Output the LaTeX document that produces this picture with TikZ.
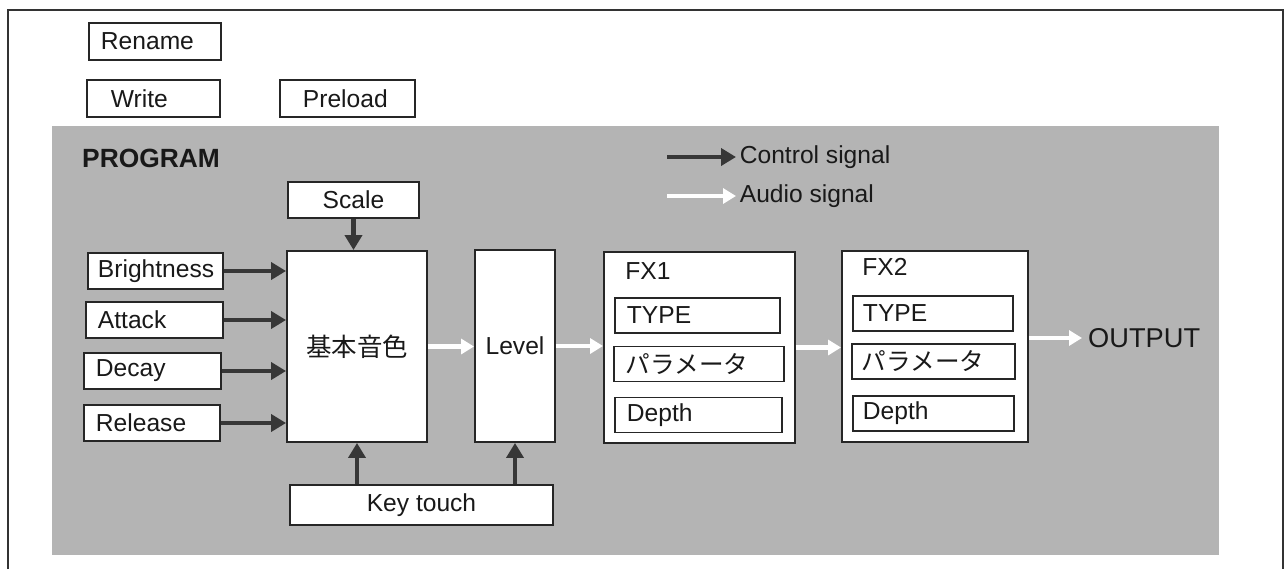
\documentclass[tikz,border=0pt]{standalone}
\usepackage{fontspec}
\setmainfont{Liberation Sans}
\newfontfamily\jpfont{Noto Sans CJK JP}
\usetikzlibrary{arrows.meta}
\definecolor{panelgray}{RGB}{180,180,180}
\definecolor{inkgray}{RGB}{55,55,55}

\begin{document}
\begin{tikzpicture}[x=0.02cm, y=-0.02cm,
every node/.style={font=\fontsize{14}{16}\selectfont, text=black!90},
box/.style={draw=black!85, line width=1.1pt, fill=white, inner sep=0pt},
lbox/.style={box, anchor=west, align=left, minimum height=0.73cm, inner xsep=0.24cm},
sub/.style={lbox, minimum height=0.7cm},
ctl/.style={-{Triangle[length=0.3cm,width=0.34cm]}, line width=2.8pt, draw=inkgray},
aud/.style={-{Triangle[length=0.26cm,width=0.3cm]}, line width=2.4pt, draw=white}]
\useasboundingbox (0,0) rectangle (1285,569);
\draw[line width=1.2pt, black!80] (8,569) -- (8,10) -- (1283,10) -- (1283,569);
\fill[panelgray] (52,126) rectangle (1219,555);

\node[lbox, text width=2.16cm] (rename) at (88,41.5) {Rename};
\node[lbox, inner xsep=0.48cm, text width=1.7cm] (write) at (86,98.5) {Write};
\node[lbox, inner xsep=0.46cm, text width=1.78cm] (preload) at (279,98.5) {Preload};

\node[anchor=west, font=\bfseries\fontsize{15}{18}\selectfont] (prog) at (76,158) {PROGRAM};
\node[anchor=west, inner xsep=2pt] (ctltxt) at (736,157) {Control signal};
\node[anchor=west, inner xsep=2pt] (audtxt) at (736,196) {Audio signal};
\coordinate (ctl0) at (667,0 |- ctltxt.west);
\coordinate (aud0) at (667,0 |- audtxt.west);
\draw[ctl] (ctl0) -- (ctltxt.west);
\draw[aud] (aud0) -- (audtxt.west);

\node[box, minimum width=2.62cm, minimum height=0.72cm] (scale) at (353.5,200) {Scale};
\node[lbox, inner xsep=0.2cm, text width=2.3cm] (bri) at (87,271) {Brightness};
\node[lbox, text width=2.26cm] (att) at (85,320) {Attack};
\node[lbox, text width=2.26cm] (dec) at (83,371) {Decay};
\node[lbox, text width=2.24cm] (rel) at (83,423) {Release};

\node[box, minimum width=2.8cm, minimum height=3.82cm] (base) at (357,346.5)
  {\jpfont\fontsize{14.5}{16}\selectfont 基本音色};
\node[box, minimum width=1.6cm, minimum height=3.84cm] (level) at (515,346) {Level};
\node[box, minimum width=5.26cm, minimum height=0.8cm] (key) at (421.5,505) {Key touch};

\node[box, minimum width=3.82cm, minimum height=3.82cm] (fx1) at (699.5,347.5) {};
\node[anchor=west, inner sep=0pt] (fx1name) at ([xshift=0.44cm,yshift=-0.4cm]fx1.north west) {FX1};
\node[sub, text width=2.82cm] (type1) at (614,315.5) {TYPE};
\node[sub, text width=2.92cm] (para1) at (613,364) {\jpfont パラメータ};
\node[sub, text width=2.86cm] (depth1) at (614,415) {Depth};

\node[box, minimum width=3.72cm, minimum height=3.82cm] (fx2) at (935,346.5) {};
\node[anchor=west, inner sep=0pt] (fx2name) at ([xshift=0.42cm,yshift=-0.34cm]fx2.north west) {FX2};
\node[sub, inner xsep=0.2cm, text width=2.8cm] (type2) at (852,313.5) {TYPE};
\node[sub, inner xsep=0.2cm, text width=2.86cm] (para2) at (851,361.5) {\jpfont パラメータ};
\node[sub, inner xsep=0.2cm, text width=2.82cm] (depth2) at (852,413.5) {Depth};

\node[anchor=west, font=\fontsize{15.5}{18}\selectfont] (out) at (1082,338) {OUTPUT};

\draw[ctl] (scale.south) -- (scale.south |- base.north);
\draw[ctl] (bri.east) -- (bri.east -| base.west);
\draw[ctl] (att.east) -- (att.east -| base.west);
\draw[ctl] (dec.east) -- (dec.east -| base.west);
\draw[ctl] (rel.east) -- (rel.east -| base.west);
\draw[ctl] (key.north -| base.south) -- (base.south);
\draw[ctl] (key.north -| level.south) -- (level.south);

\draw[aud] (base.east) -- (base.east -| level.west);
\draw[aud] (level.east) -- (level.east -| fx1.west);
\draw[aud] (fx1.east) -- (fx1.east -| fx2.west);
\draw[aud] (fx2.east |- out.west) -- (out.west);
\end{tikzpicture}
\end{document}
